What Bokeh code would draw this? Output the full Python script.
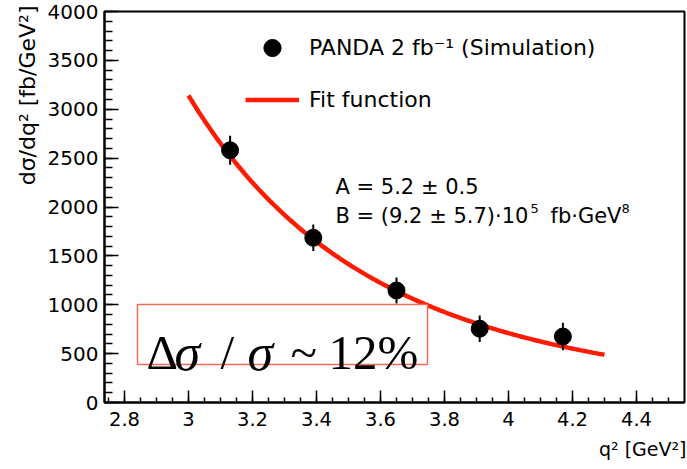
import numpy as np
from bokeh.plotting import figure
from bokeh.models import (Range1d, SingleIntervalTicker, CustomJSTickFormatter, Label,
                          BoxAnnotation, Legend, LegendItem, Title)
from bokeh.embed import file_html
from bokeh.resources import INLINE

# Simulated differential cross section per q^2 bin (fb/GeV^2)
q2 = [3.13, 3.39, 3.65, 3.91, 4.17]
dsigma = [2580, 1685, 1146, 755, 675]
dsigma_err = [148, 136, 133, 136, 140]

# Fit dsigma/dq^2 = B / (q^2)^A
fit_A = 5.17
fit_B = 9.2e5
fit_range = [3.0, 4.3]

legend_labels = ["PANDA 2 fb⁻¹ (Simulation)", "Fit function"]
ratio_parts = ["Δ", "σ", "/", "σ", "~", "12%"]

SANS = "DejaVu Sans"
SERIF = "Liberation Serif"
RED = "#ff1a00"

p = figure(width=687, height=469, output_backend="svg", toolbar_location=None,
           x_range=Range1d(2.7375, 4.55), y_range=Range1d(0, 4000),
           min_border_left=104, min_border_right=3, min_border_top=11, min_border_bottom=67)
p.background_fill_color = "white"
p.border_fill_color = "white"
p.outline_line_color = "black"
p.outline_line_width = 2
p.xgrid.visible = False
p.ygrid.visible = False

# ROOT-style inward ticks
p.xaxis.ticker = SingleIntervalTicker(interval=0.2, num_minor_ticks=4)
p.yaxis.ticker = SingleIntervalTicker(interval=500, num_minor_ticks=5)
p.xaxis.formatter = CustomJSTickFormatter(code="return (Math.round(tick*10)/10).toString();")
for ax in (p.xaxis, p.yaxis):
    ax.axis_line_color = "black"
    ax.axis_line_width = 2
    ax.major_tick_out = 0
    ax.minor_tick_out = 0
    ax.major_tick_line_width = 1.5
    ax.minor_tick_line_width = 1.5
    ax.major_label_text_font = SANS
    ax.major_label_text_color = "black"
p.xaxis.major_tick_in = 12
p.xaxis.minor_tick_in = 5
p.yaxis.major_tick_in = 14
p.yaxis.minor_tick_in = 8
p.xaxis.major_label_text_font_size = "19.5px"
p.yaxis.major_label_text_font_size = "20px"
p.xaxis.major_label_standoff = 9
p.yaxis.major_label_standoff = 6

# axis titles, right aligned at the axis ends
p.add_layout(Title(text="dσ/dq² [fb/GeV²]", align="right", offset=-6, standoff=10,
                   text_font=SANS, text_font_size="22px", text_font_style="normal",
                   text_color="black"), "left")
p.add_layout(Title(text="q² [GeV²]", align="right", offset=-2, standoff=15,
                   text_font=SANS, text_font_size="19px", text_font_style="normal",
                   text_color="black"), "below")

# fit curve
x_fit = np.linspace(fit_range[0], fit_range[1], 200)
y_fit = fit_B / x_fit ** fit_A
fit_line = p.line(x_fit, y_fit, line_color=RED, line_width=4.5)

# data points with vertical error bars
lo = [v - e for v, e in zip(dsigma, dsigma_err)]
hi = [v + e for v, e in zip(dsigma, dsigma_err)]
p.segment(x0=q2, y0=lo, x1=q2, y1=hi, line_color="black", line_width=2)
pts = p.scatter(q2, dsigma, size=17, color="black")

legend = Legend(items=[LegendItem(label=legend_labels[0], renderers=[pts]),
                       LegendItem(label=legend_labels[1], renderers=[fit_line])],
                location=(141, 281), orientation="vertical",
                glyph_width=54, glyph_height=43, label_height=43, spacing=9,
                label_standoff=10, padding=0, margin=0,
                border_line_color=None, background_fill_alpha=0,
                label_text_font=SANS, label_text_font_size="22px",
                label_text_color="black")
p.add_layout(legend)

# fit parameters
def add_text(text, x, y, dx=0, dy=0, size="21px"):
    p.add_layout(Label(x=x, y=y, x_offset=dx, y_offset=dy, text=text, text_font=SANS,
                       text_font_size=size, text_baseline="middle", text_align="left",
                       text_color="black"))

add_text(f"A = {fit_A:.1f} ± 0.5", 3.4594, 2203)
add_text(f"B = ({fit_B / 1e5:.1f} ± 5.7)·10", 3.4594, 1903)
add_text("5", 3.4594, 1903, dx=195, dy=8, size="13px")
add_text("fb·GeV", 3.4594, 1903, dx=215)
add_text("8", 3.4594, 1903, dx=286, dy=8, size="13px")

# boxed resolution note
p.add_layout(BoxAnnotation(left=2.8406, right=3.7469, bottom=388.7, top=1002.6,
                           fill_color="white", fill_alpha=1.0,
                           line_color="#f06a58", line_alpha=1.0, line_width=1.5))
offsets = [9, 37, 83, 110, 153, 191]
for part, dx in zip(ratio_parts, offsets):
    p.add_layout(Label(x=2.8406, y=511.5, x_offset=dx, text=part, text_font=SERIF,
                       text_font_size="52px" if part == "σ" else "49px",
                       text_baseline="alphabetic",
                       text_font_style="italic" if part == "σ" else "normal",
                       text_color="black"))

open("out.html", "w").write(file_html(p, INLINE))
